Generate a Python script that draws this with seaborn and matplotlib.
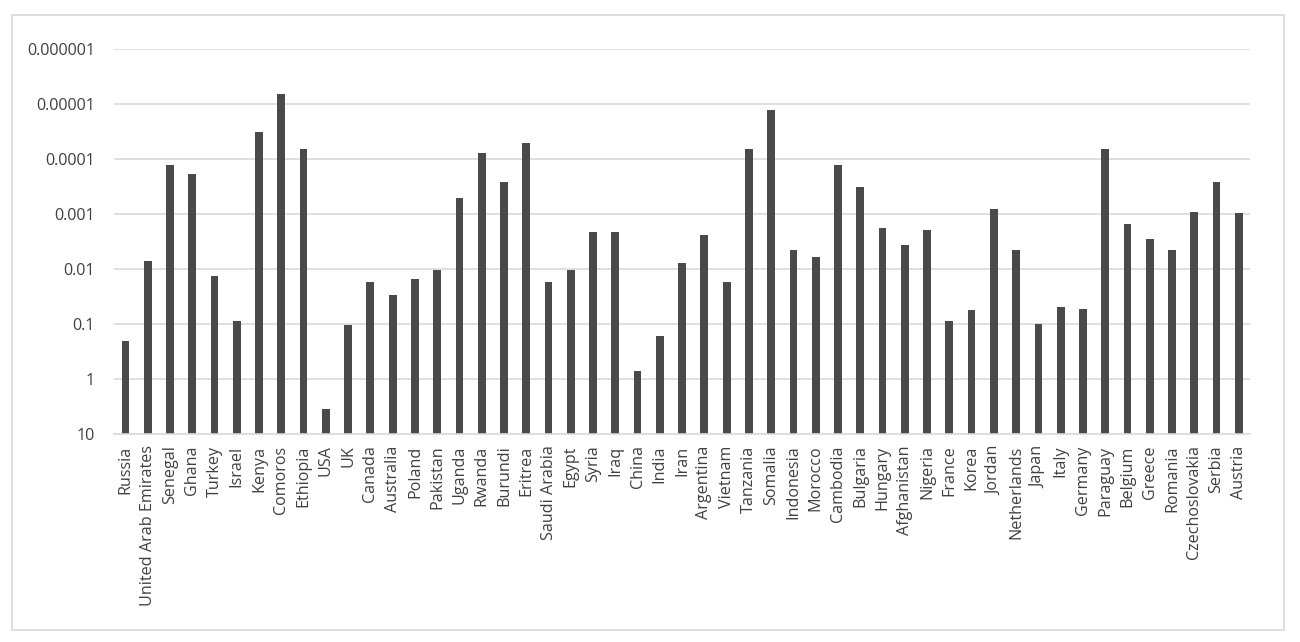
"""
Bar chart of per-country values on an inverted log axis (Excel style).
"""

import numpy as np
import pandas as pd
import seaborn as sns
import matplotlib.pyplot as plt
from matplotlib.patches import Rectangle
from matplotlib.ticker import NullLocator

# Data
countries = [
    "Russia", "United Arab Emirates", "Senegal", "Ghana", "Turkey", "Israel",
    "Kenya", "Comoros", "Ethiopia", "USA", "UK", "Canada", "Australia",
    "Poland", "Pakistan", "Uganda", "Rwanda", "Burundi", "Eritrea",
    "Saudi Arabia", "Egypt", "Syria", "Iraq", "China", "India", "Iran",
    "Argentina", "Vietnam", "Tanzania", "Somalia", "Indonesia", "Morocco",
    "Cambodia", "Bulgaria", "Hungary", "Afghanistan", "Nigeria", "France",
    "Korea", "Jordan", "Netherlands", "Japan", "Italy", "Germany", "Paraguay",
    "Belgium", "Greece", "Romania", "Czechoslovakia", "Serbia", "Austria",
]
values = [
    0.204, 0.0070, 0.000127, 0.000187, 0.0134, 0.087,
    0.0000319, 0.0000065, 0.000065, 3.42, 0.103, 0.017, 0.0293,
    0.0152, 0.0104, 0.000512, 0.0000778, 0.000255, 0.0000506,
    0.017, 0.0103, 0.0021, 0.0021, 0.716, 0.165, 0.00778,
    0.00241, 0.017, 0.000065, 0.0000125, 0.00452, 0.00605,
    0.000127, 0.000323, 0.00175, 0.00361, 0.00193, 0.087,
    0.0556, 0.00079, 0.00452, 0.1, 0.0479, 0.0533, 0.000065,
    0.00148, 0.00285, 0.00452, 0.000908, 0.000255, 0.00096,
]
ytick_values = [10, 1, 0.1, 0.01, 0.001, 0.0001, 0.00001, 0.000001]
ytick_labels = ["10", "1", "0.1", "0.01", "0.001", "0.0001", "0.00001", "0.000001"]

BASELINE = 10
BAR_COLOR = "#4a4a4a"
GRID_COLOR = "#d9d9d9"
TEXT_COLOR = "#404040"


def main():
    sns.set_theme(style="white")
    plt.rcParams["font.family"] = ["Open Sans", "DejaVu Sans"]

    df = pd.DataFrame({"country": countries, "value": values})
    # bars hang from the 10 baseline up to each value (axis is reversed)
    df["height"] = df["value"] - BASELINE

    fig = plt.figure(figsize=(13, 6.42), dpi=100)
    ax = fig.add_axes([0.0879, 0.3235, 0.8736, 0.5997])

    sns.barplot(
        data=df,
        x="country",
        y="height",
        bottom=BASELINE,
        color=BAR_COLOR,
        saturation=1,
        width=0.35,
        errorbar=None,
        linewidth=0,
        ax=ax,
    )

    ax.set_yscale("log")
    ax.set_ylim(BASELINE, 1e-6)
    ax.set_xlim(-0.5, len(countries) - 0.5)
    ax.set_yticks(ytick_values)
    ax.set_yticklabels(ytick_labels)
    ax.yaxis.set_minor_locator(NullLocator())

    ax.grid(axis="y", color=GRID_COLOR, linewidth=1.2)
    ax.set_axisbelow(True)
    for side in ["left", "right", "top"]:
        ax.spines[side].set_visible(False)
    ax.spines["bottom"].set_color(GRID_COLOR)
    ax.spines["bottom"].set_linewidth(1.2)

    ax.tick_params(axis="y", length=0, pad=14, labelsize=11.6, labelcolor=TEXT_COLOR)
    ax.tick_params(axis="x", length=0, pad=8, labelsize=11.6, labelcolor=TEXT_COLOR,
                   labelrotation=90)
    ax.set_xlabel("")
    ax.set_ylabel("")

    # light frame round the whole chart
    fig.patches.append(
        Rectangle((12 / 1300, 1 - 630 / 642), 1272 / 1300, 615 / 642,
                  transform=fig.transFigure, fill=False,
                  edgecolor=GRID_COLOR, linewidth=1.2)
    )

    fig.savefig("out.png", dpi=100, facecolor="white")
    plt.close(fig)


if __name__ == "__main__":
    main()
